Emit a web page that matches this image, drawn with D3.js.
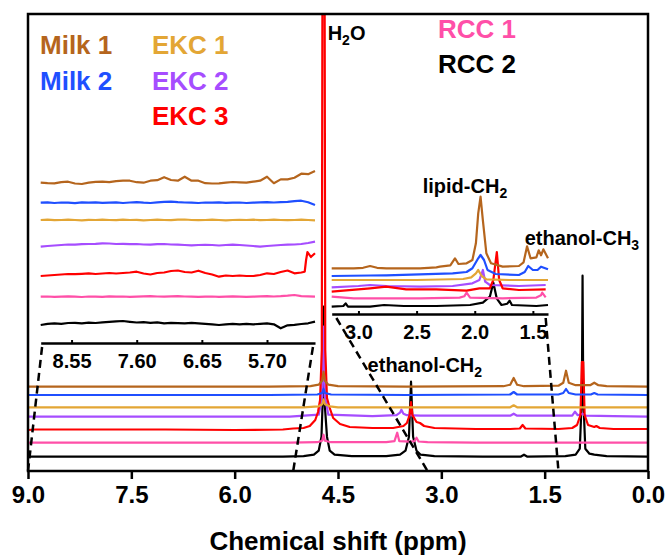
<!DOCTYPE html>
<html>
<head>
<meta charset="utf-8">
<script src="https://cdn.jsdelivr.net/npm/d3@7"></script>
<style>
body { margin: 0; background: #fff; }
text { font-family: "Liberation Sans", Arial, sans-serif; font-weight: bold; }
</style>
</head>
<body>
<div id="chart"></div>
<script>
// series, in legend order
var names = ["Milk 1", "Milk 2", "EKC 1", "EKC 2", "EKC 3", "RCC 1", "RCC 2"];
var colors = ["#B5651D", "#1F4FFF", "#E3A635", "#A64DFF", "#FF0000", "#FF4FA8", "#000000"];
var drawOrder = [6, 5, 3, 4, 2, 1, 0];

var mainTicks = [9.0, 7.5, 6.0, 4.5, 3.0, 1.5, 0.0];
var leftTicks = [8.55, 7.60, 6.65, 5.70];
var rightTicks = [3.0, 2.5, 2.0, 1.5];

// stacking offsets of each trace (intensity units)
var mainOffset = [84.3, 76, 63.7, 54.3, 41, 28.3, 14.3];
var leftOffset = [160.3, 140.3, 123, 98, 68, 46.3, 19.7];
var rightOffset = [45.7, 38, 34, 28, 24, 15.7, 7.3];

// main spectrum, [ppm, intensity]
var mainMilk1 = [[9,0],[5.5,0],[4.9,0.5],[4.78,2],[4.73,6],[4.71,15],[4.69,6],[4.64,2],[4.5,0.5],[3.5,0],[2.1,0.5],[2.0,2],[1.95,8.7],[1.9,2],[1.8,0.5],[1.3,1],[1.23,4],[1.19,16],[1.15,4],[1.05,1.5],[0.95,1.5],[0.84,1.5],[0.78,4],[0.72,1.5],[0.6,0.5],[0,0]];
var mainMilk2 = [[9,0],[5.5,0],[4.8,0.5],[4.73,2],[4.71,6],[4.69,2],[4.6,0.5],[3.5,0],[2.0,0.5],[1.95,3],[1.9,0.5],[1.3,0.5],[1.23,2],[1.19,6],[1.15,2],[1.05,0.5],[0.83,0.5],[0.78,2],[0.73,0.5],[0,0]];
var mainEKC1 = [[9,0],[5,0],[4.78,1],[4.73,3],[4.71,8],[4.69,3],[4.62,1],[4.5,0],[2.0,0],[1.95,2],[1.9,0],[0,0]];
var mainEKC2 = [[9,0],[5.2,0],[4.78,2],[4.73,20],[4.71,90],[4.69,20],[4.64,2],[4.0,0.5],[3.65,1.5],[3.60,4],[3.58,7],[3.55,3],[3.5,1.5],[3.3,1],[2.0,1],[1.95,3],[1.9,1],[1.1,1],[1.06,5],[1.02,1.5],[0.95,3],[0.9,1],[0.5,0.5],[0,0]];
var mainEKC3 = [[9,0],[8.9,0.5],[7,0.5],[6,0],[5.3,0.5],[5.15,1.5],[5.0,2],[4.91,4],[4.83,10],[4.79,18],[4.76,30],[4.735,80],[4.722,600],[4.698,600],[4.685,80],[4.66,32],[4.62,22],[4.57,12],[4.47,6],[4.33,3],[4.0,2],[3.7,2],[3.55,4],[3.50,7],[3.46,15],[3.44,28],[3.42,15],[3.36,8],[3.31,7],[3.25,4],[3.1,2],[2.5,1],[2.0,1],[1.86,1.5],[1.82,5],[1.78,1.5],[1.3,1],[1.1,2],[1.03,5],[0.98,15],[0.96,68],[0.94,68],[0.92,15],[0.87,5],[0.78,3],[0.75,4],[0.7,2],[0.5,1],[0,1]];
var mainRCC1 = [[9,0],[5.2,0],[4.8,0.5],[4.73,2],[4.71,8],[4.69,2],[4.6,0.5],[3.8,0.5],[3.68,1.5],[3.64,10],[3.61,1.5],[3.45,1],[3.39,1.5],[3.36,5],[3.33,1.2],[3.2,0.5],[2.5,0],[0,0]];
var mainRCC2 = [[9,0],[7,0],[5.3,0],[5.0,0.5],[4.85,2],[4.78,6],[4.74,20],[4.72,60],[4.71,150],[4.70,60],[4.66,20],[4.62,6],[4.55,2],[4.3,0.5],[3.8,0.5],[3.6,2],[3.52,6],[3.47,20],[3.44,75],[3.41,20],[3.36,6],[3.3,2],[3.1,0.5],[2.4,0],[1.85,0],[1.8,2],[1.75,0],[1.2,0.5],[1.05,2],[0.99,8],[0.96,60],[0.95,181],[0.94,60],[0.91,8],[0.85,3],[0.78,2],[0.6,0.5],[0,0]];

// left inset (9.0 - 5.0 ppm)
var leftGrid = [9.0,8.9,8.8,8.7,8.6,8.5,8.4,8.3,8.2,8.1,8.0,7.9,7.8,7.7,7.6,7.5,7.4,7.3,7.2,7.1,7.0,6.9,6.8,6.7,6.6,6.5,6.4,6.3,6.2,6.1,6.0,5.9,5.8,5.7,5.6,5.5,5.4,5.3,5.2,5.1,5.0];
var leftMilk1 = [0,-0.5,-0.7,0.5,1,-0.8,-1.3,0,0.8,1,0.5,1.5,2,2,0.5,0,2,2.5,5.5,2.7,2,6,2,2,-0.5,-0.8,-0.7,0,0.7,0.3,0,1,2,6,-0.5,3.3,3.3,5,9,8.5,11.7];
var leftMilk2 = [0,0.3,-0.3,0.2,0,-0.4,0.3,0,0.4,-0.2,0,0.3,-0.3,0.2,0.5,0,-0.3,0.4,0.8,1,0.5,0.2,0,-0.3,0.2,0,0.3,-0.2,0,0.2,-0.3,0,0.3,0.5,0.2,0.5,0.8,1.5,2,0.5,-2.3];
var leftEKC1 = [0,0.3,-0.2,0,0.3,0,-0.3,0.2,0,0.4,0,-0.2,0.3,0,0.2,-0.3,0,0.3,0,-0.2,0.3,0.5,0,-0.2,0,0.3,0,-0.3,0,0.2,0,0.3,-0.2,0,0.3,0,-0.2,0,0.3,0,-0.3];
var leftEKC2 = [-1.7,-1,-0.5,0,0.5,0.3,0.8,1,1.2,1.7,1.5,1,1.2,0.8,1,0.5,0.3,0.8,1,0.5,0.3,0,-0.3,0,0.2,0,-0.5,0,0.3,0,-0.5,-1,-1.7,-1,-0.5,0,0.3,0.5,1,2,3.3];
var leftEKC3 = [[9.0,-1],[8.9,-0.5],[8.8,0],[8.7,0.5],[8.6,1],[8.5,0.8],[8.4,1.2],[8.3,1.7],[8.2,1],[8.1,1.5],[8.0,2],[7.9,1.5],[7.8,2],[7.7,2.5],[7.6,3.3],[7.5,1.5],[7.4,0.5],[7.3,2],[7.2,2.5],[7.1,4],[7.0,4.5],[6.9,3],[6.8,2.5],[6.7,4.3],[6.6,2],[6.5,0.5],[6.4,-1.7],[6.3,-0.5],[6.2,-1],[6.1,-0.5],[6.0,-1],[5.9,-1],[5.8,0],[5.7,1.7],[5.6,1],[5.5,3],[5.4,4.5],[5.3,1.7],[5.2,2.5],[5.15,3.3],[5.13,15],[5.11,23],[5.06,18],[5.0,21.7]];
var leftRCC1 = [0,0.2,-0.2,0,0.3,0,-0.3,0.2,0,-0.2,0.3,0,0.2,-0.2,0,0.3,0.5,0.2,0,0.3,0.5,0.2,0,-0.2,0,0.2,-0.2,0,0.3,0,-0.2,0,0.3,0.5,0.2,0.5,1,1.7,0.5,0.3,0];
var leftRCC2 = [-1.7,-0.5,0,-0.5,0.3,0.5,0,0.7,0.3,1,1.5,2,2.3,1.5,0.8,1.2,0.5,1,0,0.5,0.2,0,0.5,0,-0.5,-1,-1.7,-1,-0.5,-1,-0.5,-1,-0.5,0,-1,-5,-2,-1.5,-0.7,0,1.7];

// right inset (3.23 - 1.37 ppm)
var rightMilk1 = [[3.23,0],[3.04,0],[2.96,0.5],[2.90,2.3],[2.84,0.5],[2.76,0],[2.47,0],[2.33,1],[2.30,1.7],[2.21,3],[2.17,10],[2.14,4.3],[2.07,5],[2.02,8.3],[1.99,25],[1.97,55],[1.95,71.7],[1.93,48],[1.90,15],[1.86,5],[1.76,1.7],[1.62,2.3],[1.58,6],[1.55,22],[1.52,10],[1.47,11],[1.45,18],[1.43,13],[1.41,19],[1.37,10]];
var rightMilk2 = [[3.23,0],[2.90,0.5],[2.76,0.7],[2.19,2.7],[2.07,4],[2.02,7.7],[1.97,17.7],[1.95,21],[1.92,16],[1.89,6],[1.82,2],[1.62,1],[1.57,4],[1.54,10],[1.50,6],[1.46,6],[1.43,9.3],[1.37,6.7]];
var rightEKC1 = [[3.23,0],[2.5,0],[2.10,1],[2.03,2.7],[1.99,6.7],[1.97,10],[1.94,4],[1.90,0.7],[1.7,0],[1.37,0]];
var rightEKC2 = [[3.23,-1.3],[3.0,0],[2.90,1],[2.76,0],[2.47,-0.7],[2.19,0],[2.02,2.7],[1.96,6],[1.93,16],[1.91,4.3],[1.87,1],[1.62,0],[1.39,1]];
var rightEKC3 = [[3.23,-1.7],[3.13,-0.7],[2.90,1.7],[2.76,3.3],[2.59,0.7],[2.33,0.7],[2.07,-0.7],[1.96,1.7],[1.87,1.7],[1.84,10],[1.81,38],[1.79,10],[1.76,1.7],[1.62,0],[1.39,0.7]];
var rightRCC1 = [[3.23,1.7],[3.04,0],[2.47,0],[2.13,0.7],[2.09,2],[2.07,5.7],[2.04,0.7],[1.76,0],[1.47,0.7],[1.43,3],[1.42,5.7],[1.39,1]];
var rightRCC2 = [[3.23,0],[3.13,0.7],[3.11,3.3],[3.09,0],[2.90,0],[2.78,1.7],[2.61,0.7],[2.33,0.7],[2.04,1.7],[1.93,4],[1.87,10],[1.84,24],[1.81,8],[1.77,1.7],[1.72,3],[1.70,6],[1.68,1.7],[1.47,0.7],[1.37,1.7]];

var mainData = [mainMilk1, mainMilk2, mainEKC1, mainEKC2, mainEKC3, mainRCC1, mainRCC2];
var leftData = [leftMilk1, leftMilk2, leftEKC1, leftEKC2, leftEKC3, leftRCC1, leftRCC2].map(function(s) {
    if (Array.isArray(s[0])) return s;
    return s.map(function(v, i) { return [leftGrid[i], v]; });
});
var rightData = [rightMilk1, rightMilk2, rightEKC1, rightEKC2, rightEKC3, rightRCC1, rightRCC2];

// chart dimensions
var margin = {top: 14, right: 20, bottom: 85, left: 28};
var width = 620;
var height = 457;

var svg = d3.select("#chart").append("svg")
    .attr("width", 668)
    .attr("height", 556)
    .append("g")
    .attr("transform", "translate(" + margin.left + "," + margin.top + ")");

var x = d3.scaleLinear().domain([9, 0]).range([0, width]);
var y = d3.scaleLinear().domain([0, height]).range([height, 0]);

var xl = d3.scaleLinear().domain([9, 5]).range([12.7, 287]);
var yl = d3.scaleLinear().domain([0, 200]).range([329, 129]);
var xr = d3.scaleLinear().domain([3.23, 1.37]).range([303.7, 520]);
var yr = d3.scaleLinear().domain([0, 100]).range([300, 200]);

svg.append("clipPath").attr("id", "frameClip")
    .append("rect").attr("width", width).attr("height", height);

function drawTraces(g, data, offsets, xs, ys, sw) {
    drawOrder.forEach(function(i) {
        var line = d3.line()
            .x(function(d) { return xs(d[0]); })
            .y(function(d) { return ys(offsets[i] + d[1]); });
        g.append("path")
            .attr("d", line(data[i]))
            .attr("fill", "none")
            .attr("stroke", colors[i])
            .attr("stroke-width", sw)
            .attr("stroke-linejoin", "round");
    });
}

// main spectra
drawTraces(svg.append("g").attr("clip-path", "url(#frameClip)"), mainData, mainOffset, x, y, 2.2);

// main axis
svg.append("g")
    .attr("transform", "translate(0," + height + ")")
    .call(d3.axisBottom(x).tickValues(mainTicks).tickFormat(d3.format(".1f")).tickSizeInner(8).tickSizeOuter(0).tickPadding(7))
    .call(function(g) {
        g.selectAll("line").attr("stroke-width", 2.5);
        g.select(".domain").remove();
        g.selectAll("text").attr("font-size", 24).attr("font-family", null).attr("fill", "#000");
    });

svg.append("rect")
    .attr("width", width)
    .attr("height", height)
    .attr("fill", "none")
    .attr("stroke", "#000")
    .attr("stroke-width", 2.5);

svg.append("text")
    .attr("x", width / 2)
    .attr("y", 536)
    .attr("text-anchor", "middle")
    .attr("font-size", 26)
    .text("Chemical shift (ppm)");

// insets
function drawInset(xs, ys, data, offsets, ticks, fmt) {
    var g = svg.append("g");
    drawTraces(g, data, offsets, xs, ys, 2.2);
    g.append("g")
        .attr("transform", "translate(0," + ys(0) + ")")
        .call(d3.axisBottom(xs).tickValues(ticks).tickFormat(d3.format(fmt)).tickSizeInner(-3).tickSizeOuter(0).tickPadding(11))
        .call(function(a) {
            a.select(".domain").attr("stroke-width", 2.5);
            a.selectAll("line").attr("stroke-width", 2);
            a.selectAll("text").attr("font-size", 20).attr("font-family", null).attr("fill", "#000");
        });
}
drawInset(xl, yl, leftData, leftOffset, leftTicks, ".2f");
drawInset(xr, yr, rightData, rightOffset, rightTicks, ".1f");

// dashed connectors: [inset ppm, main ppm]
var leftLinks = [[8.98, 9.0], [5.03, 5.15]];
var rightLinks = [[3.19, 3.2], [1.39, 1.3]];
function drawLinks(links, xs, ys) {
    svg.append("g").selectAll("line")
        .data(links)
        .enter()
        .append("line")
        .attr("x1", function(d) { return xs(d[0]); })
        .attr("y1", ys(0) + 4)
        .attr("x2", function(d) { return x(d[1]); })
        .attr("y2", height)
        .attr("stroke", "#000")
        .attr("stroke-width", 2.5)
        .attr("stroke-dasharray", "8,5");
}
drawLinks(leftLinks, xl, yl);
drawLinks(rightLinks, xr, yr);

// peak labels: [main, subscript, ppm, intensity, tail]
var peakLabels = [["H", "2", 4.65, 431, "O"], ["lipid-CH", "2", 3.27, 278, ""], ["ethanol-CH", "3", 1.79, 226, ""], ["ethanol-CH", "2", 4.07, 99, ""]];
peakLabels.forEach(function(p) {
    var t = svg.append("text")
        .attr("x", x(p[2]))
        .attr("y", y(p[3]))
        .attr("font-size", 20);
    t.append("tspan").text(p[0]);
    t.append("tspan").attr("dy", 5).attr("font-size", 14).text(p[1]);
    if (p[4]) t.append("tspan").attr("dy", -5).text(p[4]);
});

// legend
var legendPos = [[12, 40], [12, 76], [124, 40], [124, 76], [124, 111], [410, 24], [410, 59]];
svg.append("g").selectAll("text")
    .data(names)
    .enter()
    .append("text")
    .attr("x", function(d, i) { return legendPos[i][0]; })
    .attr("y", function(d, i) { return legendPos[i][1]; })
    .attr("font-size", 26)
    .attr("fill", function(d, i) { return colors[i]; })
    .text(function(d) { return d; });
</script>
</body>
</html>
